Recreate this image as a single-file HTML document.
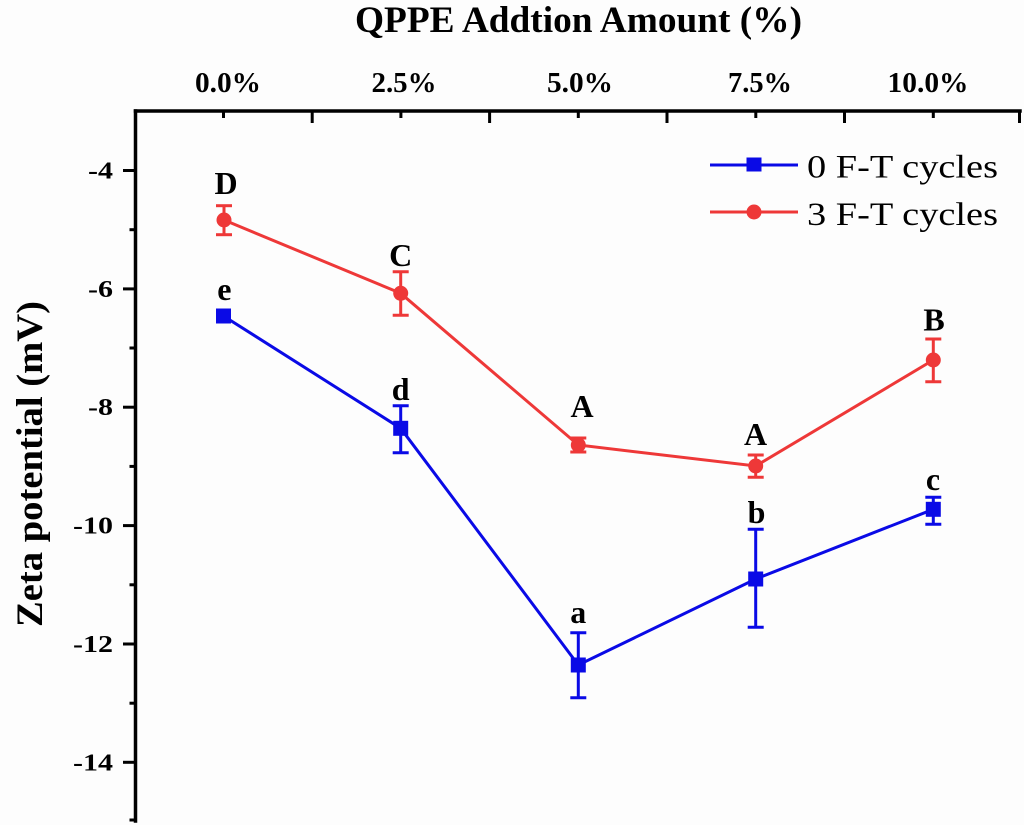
<!DOCTYPE html>
<html>
<head>
<meta charset="utf-8">
<style>
html,body{margin:0;padding:0;background:#fdfdfd;}
svg{display:block;}
text{font-family:"Liberation Serif","Times New Roman",serif;}
</style>
</head>
<body>
<svg width="1024" height="825" viewBox="0 0 1024 825" xmlns="http://www.w3.org/2000/svg">
<rect x="0" y="0" width="1024" height="825" fill="#fdfdfd"/>

<!-- Title -->
<text x="355" y="32" font-size="37" font-weight="bold" textLength="447" lengthAdjust="spacingAndGlyphs" fill="#000">QPPE Addtion Amount (%)</text>

<!-- Top tick labels -->
<g font-size="28" font-weight="bold" fill="#000" text-anchor="middle">
<text x="228" y="92" textLength="66" lengthAdjust="spacingAndGlyphs">0.0%</text>
<text x="404" y="92" textLength="65" lengthAdjust="spacingAndGlyphs">2.5%</text>
<text x="580" y="92" textLength="66" lengthAdjust="spacingAndGlyphs">5.0%</text>
<text x="760" y="92" textLength="64" lengthAdjust="spacingAndGlyphs">7.5%</text>
<text x="928" y="92" textLength="81" lengthAdjust="spacingAndGlyphs">10.0%</text>
</g>

<!-- Axes -->
<g stroke="#000" stroke-width="3.5" fill="none" stroke-linecap="square">
<line x1="135.5" y1="111" x2="1020" y2="111"/>
<line x1="135.5" y1="111" x2="135.5" y2="821"/>
</g>
<!-- Top ticks (inward) -->
<g stroke="#000" stroke-width="3">
<line x1="223.5" y1="111" x2="223.5" y2="118"/>
<line x1="400.9" y1="111" x2="400.9" y2="118"/>
<line x1="578.3" y1="111" x2="578.3" y2="118"/>
<line x1="755.8" y1="111" x2="755.8" y2="118"/>
<line x1="933.3" y1="111" x2="933.3" y2="118"/>
<line x1="312.2" y1="111" x2="312.2" y2="123"/>
<line x1="489.6" y1="111" x2="489.6" y2="123"/>
<line x1="667" y1="111" x2="667" y2="123"/>
<line x1="844.5" y1="111" x2="844.5" y2="123"/>
<line x1="1019.5" y1="111" x2="1019.5" y2="123"/>
</g>
<!-- Left ticks (outward) -->
<g stroke="#000" stroke-width="3">
<line x1="123" y1="170.5" x2="135.5" y2="170.5"/>
<line x1="123" y1="288.9" x2="135.5" y2="288.9"/>
<line x1="123" y1="407.2" x2="135.5" y2="407.2"/>
<line x1="123" y1="525.6" x2="135.5" y2="525.6"/>
<line x1="123" y1="644" x2="135.5" y2="644"/>
<line x1="123" y1="762.3" x2="135.5" y2="762.3"/>
<line x1="129.5" y1="229.7" x2="135.5" y2="229.7"/>
<line x1="129.5" y1="348" x2="135.5" y2="348"/>
<line x1="129.5" y1="466.4" x2="135.5" y2="466.4"/>
<line x1="129.5" y1="584.8" x2="135.5" y2="584.8"/>
<line x1="129.5" y1="703.2" x2="135.5" y2="703.2"/>
<line x1="129.5" y1="820" x2="135.5" y2="820"/>
</g>
<!-- Y tick labels -->
<g font-size="24" font-weight="bold" fill="#000" text-anchor="end">
<text x="113" y="178.5" textLength="25" lengthAdjust="spacingAndGlyphs">-4</text>
<text x="113" y="296.9" textLength="25" lengthAdjust="spacingAndGlyphs">-6</text>
<text x="113" y="415.2" textLength="25" lengthAdjust="spacingAndGlyphs">-8</text>
<text x="113" y="533.6" textLength="40" lengthAdjust="spacingAndGlyphs">-10</text>
<text x="113" y="652" textLength="40" lengthAdjust="spacingAndGlyphs">-12</text>
<text x="113" y="770.3" textLength="40" lengthAdjust="spacingAndGlyphs">-14</text>
</g>

<!-- Y axis label -->
<text transform="translate(42,627) rotate(-90)" x="0" y="0" font-size="37" font-weight="bold" fill="#000" textLength="326" lengthAdjust="spacingAndGlyphs">Zeta potential (mV)</text>

<!-- Red series (3 F-T cycles) -->
<g stroke="#ee3838" stroke-width="3" fill="none">
<polyline points="224,220 400.7,293.3 578.3,445 755.7,466 933.3,360"/>
<line x1="224" y1="205.7" x2="224" y2="234.7"/>
<line x1="216" y1="205.7" x2="232" y2="205.7"/>
<line x1="216" y1="234.7" x2="232" y2="234.7"/>
<line x1="400.7" y1="271.7" x2="400.7" y2="315.3"/>
<line x1="392.7" y1="271.7" x2="408.7" y2="271.7"/>
<line x1="392.7" y1="315.3" x2="408.7" y2="315.3"/>
<line x1="578.3" y1="438" x2="578.3" y2="452"/>
<line x1="570.3" y1="438" x2="586.3" y2="438"/>
<line x1="570.3" y1="452" x2="586.3" y2="452"/>
<line x1="755.7" y1="455" x2="755.7" y2="477.3"/>
<line x1="747.7" y1="455" x2="763.7" y2="455"/>
<line x1="747.7" y1="477.3" x2="763.7" y2="477.3"/>
<line x1="933.3" y1="339" x2="933.3" y2="381.7"/>
<line x1="925.3" y1="339" x2="941.3" y2="339"/>
<line x1="925.3" y1="381.7" x2="941.3" y2="381.7"/>
</g>
<g fill="#ee3838">
<circle cx="224" cy="220" r="7.5"/>
<circle cx="400.7" cy="293.3" r="7.5"/>
<circle cx="578.3" cy="445" r="7.5"/>
<circle cx="755.7" cy="466" r="7.5"/>
<circle cx="933.3" cy="360" r="7.5"/>
</g>

<!-- Blue series (0 F-T cycles) -->
<g stroke="#0a0ae6" stroke-width="3" fill="none">
<polyline points="223.5,316 400.7,428.3 578.3,665 755.7,579 933.3,509.3"/>
<line x1="400.7" y1="405.7" x2="400.7" y2="452.7"/>
<line x1="392.7" y1="405.7" x2="408.7" y2="405.7"/>
<line x1="392.7" y1="452.7" x2="408.7" y2="452.7"/>
<line x1="578.3" y1="632.7" x2="578.3" y2="697.7"/>
<line x1="570.3" y1="632.7" x2="586.3" y2="632.7"/>
<line x1="570.3" y1="697.7" x2="586.3" y2="697.7"/>
<line x1="755.7" y1="529.3" x2="755.7" y2="627.3"/>
<line x1="747.7" y1="529.3" x2="763.7" y2="529.3"/>
<line x1="747.7" y1="627.3" x2="763.7" y2="627.3"/>
<line x1="933.3" y1="497.3" x2="933.3" y2="524.3"/>
<line x1="925.3" y1="497.3" x2="941.3" y2="497.3"/>
<line x1="925.3" y1="524.3" x2="941.3" y2="524.3"/>
</g>
<g fill="#0a0ae6">
<rect x="216" y="308.5" width="15" height="15"/>
<rect x="393.2" y="420.8" width="15" height="15"/>
<rect x="570.8" y="657.5" width="15" height="15"/>
<rect x="748.2" y="571.5" width="15" height="15"/>
<rect x="925.8" y="501.8" width="15" height="15"/>
</g>

<!-- Significance letters -->
<g font-size="32" font-weight="bold" fill="#000" text-anchor="middle">
<text x="226" y="194">D</text>
<text x="400.7" y="266">C</text>
<text x="582" y="417">A</text>
<text x="755.5" y="445">A</text>
<text x="934" y="330.5">B</text>
<text x="224.3" y="300">e</text>
<text x="400.7" y="400">d</text>
<text x="578.3" y="623">a</text>
<text x="756.5" y="523">b</text>
<text x="933" y="490">c</text>
</g>

<!-- Legend -->
<g stroke-width="3">
<line x1="710" y1="165" x2="798" y2="165" stroke="#0a0ae6"/>
<line x1="710" y1="212" x2="798" y2="212" stroke="#ee3838"/>
</g>
<rect x="746.5" y="157.5" width="15" height="14" fill="#0a0ae6"/>
<circle cx="754" cy="212" r="7.5" fill="#ee3838"/>
<g font-size="33" fill="#000">
<text x="807" y="177.3" textLength="191" lengthAdjust="spacingAndGlyphs">0 F-T cycles</text>
<text x="807" y="225" textLength="191" lengthAdjust="spacingAndGlyphs">3 F-T cycles</text>
</g>
</svg>
</body>
</html>
